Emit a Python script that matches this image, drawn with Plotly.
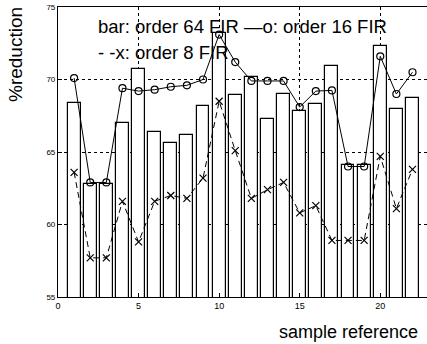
import plotly.graph_objects as go

samples = list(range(1, 23))
order64 = [68.4, 62.8, 62.8, 67.0, 70.7, 66.4, 65.6, 66.2, 68.2, 73.2, 68.9,
           70.2, 67.3, 69.0, 67.8, 68.3, 70.95, 64.1, 64.1, 72.3, 68.0, 68.7]
order16 = [70.1, 62.9, 62.9, 69.4, 69.2, 69.3, 69.5, 69.6, 70.0, 73.1, 71.2,
           69.9, 69.9, 69.9, 68.1, 69.2, 69.25, 64.0, 64.0, 71.6, 69.0, 70.5]
order8 = [63.6, 57.7, 57.7, 61.6, 58.8, 61.6, 62.0, 61.8, 63.2, 68.5, 65.1,
          61.8, 62.4, 62.9, 60.8, 61.3, 58.9, 58.9, 58.9, 64.7, 61.1, 63.8]
xticks = [0, 5, 10, 15, 20]
yticks = [55, 60, 65, 70, 75]

W, H = 427, 344
ML, MR, MT, MB = 58, 0, 7, 47

fig = go.Figure()
fig.add_trace(go.Bar(x=samples, y=order64, width=0.8, base=0,
                     marker=dict(color="white", line=dict(color="black", width=1.2)),
                     showlegend=False))
fig.add_trace(go.Scatter(x=samples, y=order16, mode="lines+markers",
                         line=dict(color="black", width=1),
                         marker=dict(symbol="circle-open", size=7, color="black", line=dict(width=1.2)),
                         showlegend=False))
fig.add_trace(go.Scatter(x=samples, y=order8, mode="lines+markers",
                         line=dict(color="black", width=1, dash="6px,4px"),
                         marker=dict(symbol="x-thin-open", size=7, color="black", line=dict(width=1.2, color="black")),
                         showlegend=False))

fig.update_layout(
    width=W, height=H,
    margin=dict(l=ML, r=MR, t=MT, b=MB, autoexpand=False),
    paper_bgcolor="white", plot_bgcolor="white",
    font=dict(family="Liberation Sans, Arial", color="black"),
    bargap=0,
    xaxis=dict(range=[0, 22.9], tickvals=xticks, ticktext=[str(v) for v in xticks],
               showgrid=True, gridcolor="black", griddash="dot", gridwidth=0.6,
               showline=True, linecolor="black", linewidth=1.2, mirror=True,
               ticks="inside", ticklen=4, tickcolor="black",
               tickfont=dict(size=9), zeroline=False),
    yaxis=dict(range=[55, 75], tickvals=yticks, ticktext=[str(v) for v in yticks],
               showgrid=True, gridcolor="black", griddash="dot", gridwidth=0.6,
               showline=True, linecolor="black", linewidth=1.2, mirror=False,
               ticks="inside", ticklen=4, tickcolor="black",
               tickfont=dict(size=8), zeroline=False),
)

pw = W - ML - MR
ph = H - MT - MB


def px2paper(px, py):
    return (px - ML) / pw, (H - MB - py) / ph


texts = [
    ("bar: order 64 FIR \u2014o: order 16 FIR", 96, 26, "left", 0, 18.5),
    ("- -x: order 8 FIR", 96, 53, "left", 0, 18.5),
    ("%reduction", 15, 55, "center", -90, 19),
    ("sample reference", 348, 332, "center", 0, 18),
]
for t, px, py, xa, ang, fs in texts:
    x, y = px2paper(px, py)
    fig.add_annotation(text=t, xref="paper", yref="paper", x=x, y=y,
                       xanchor=xa, yanchor="middle", showarrow=False,
                       textangle=ang, font=dict(size=fs))

fig.write_html("out.html", config={"displayModeBar": False},
               post_script="document.body.style.margin='0';")
